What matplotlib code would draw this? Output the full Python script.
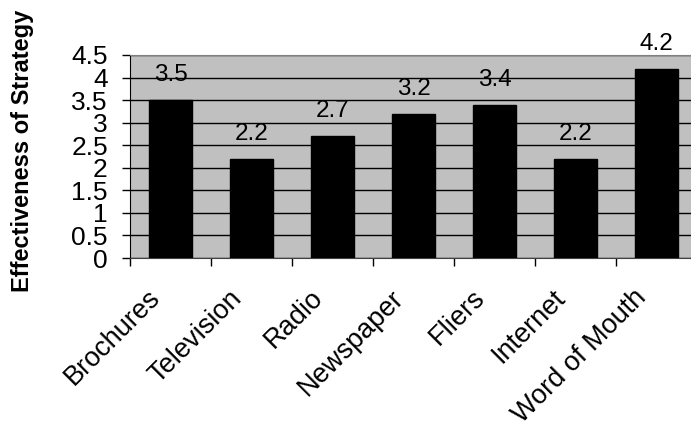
import numpy as np
import matplotlib
matplotlib.use('Agg')
import matplotlib.pyplot as plt
from matplotlib.transforms import ScaledTranslation

plt.rcParams['font.family'] = ['Liberation Sans', 'DejaVu Sans']

# data
categories = ['Brochures', 'Television', 'Radio', 'Newspaper', 'Fliers', 'Internet', 'Word of Mouth']
scores = [3.5, 2.2, 2.7, 3.2, 3.4, 2.2, 4.2]
y_ticks = [0, 0.5, 1, 1.5, 2, 2.5, 3, 3.5, 4, 4.5]
y_tick_labels = ['0', '0.5', '1', '1.5', '2', '2.5', '3', '3.5', '4', '4.5']

fig = plt.figure(figsize=(6.91, 4.34), dpi=100)
ax = fig.add_axes([130 / 691, 176 / 434, 567 / 691, 203 / 434])
ax.set_facecolor('#C0C0C0')

x = np.arange(len(categories))
ax.bar(x, scores, width=0.54, color='black', edgecolor='black', zorder=3)

# value labels above bars
for xi, v in zip(x, scores):
    ax.annotate(f'{v:g}', xy=(xi, v), xytext=(0, 18), textcoords='offset points',
                ha='center', va='center', fontsize=17.5, zorder=4)

ax.set_xlim(-0.5, len(categories) - 0.5)
ax.set_ylim(0, 4.5)
ax.set_yticks(y_ticks)
ax.set_yticklabels(y_tick_labels, fontsize=19)
ax.yaxis.grid(True, color='black', linewidth=1, zorder=1)
ax.set_axisbelow(True)
ax.tick_params(axis='y', length=6, width=1, pad=10, direction='out')

# category labels on major ticks (hidden), boundary ticks as minor
ax.set_xticks(x)
ax.set_xticklabels(categories, fontsize=19.5, rotation=45, ha='right', va='center',
                   rotation_mode='anchor')
ax.tick_params(axis='x', which='major', length=0, pad=0)
ax.set_xticks(np.arange(-0.5, len(categories), 1), minor=True)
ax.tick_params(axis='x', which='minor', length=6, width=1, direction='out')
shift = ScaledTranslation(-10 / 72, -26 / 72, fig.dpi_scale_trans)
for lbl in ax.get_xticklabels():
    lbl.set_transform(lbl.get_transform() + shift)

ax.spines['top'].set_color('#808080')
ax.spines['right'].set_color('#808080')
ax.spines['left'].set_color('black')
ax.spines['bottom'].set_color('#404040')

fig.text(23 / 691, 1 - 151 / 434, 'Effectiveness of Strategy', rotation=90,
         ha='center', va='center', fontsize=17, fontweight='bold')

fig.savefig('out.png', dpi=100)
